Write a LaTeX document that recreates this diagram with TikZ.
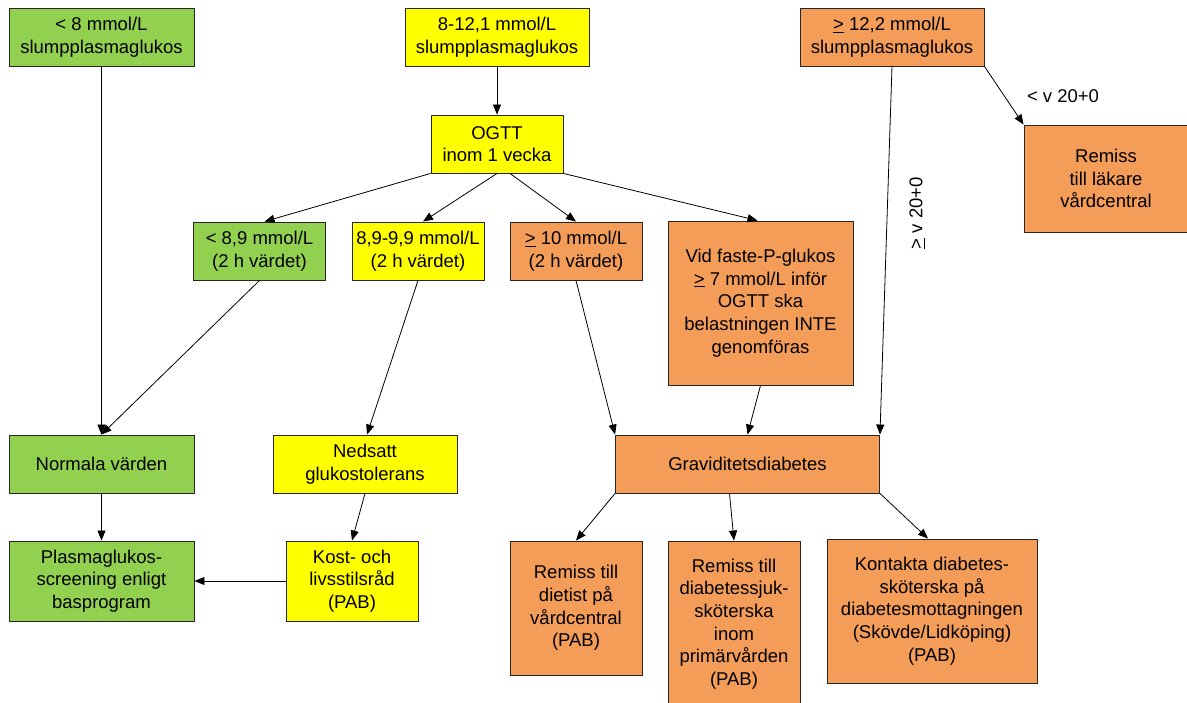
\documentclass[tikz,border=0pt]{standalone}
\usepackage{fontspec}
\setmainfont{Liberation Sans}
\usetikzlibrary{arrows.meta}
\definecolor{gron}{RGB}{146,208,80}
\definecolor{gul}{RGB}{255,255,0}
\definecolor{gdorange}{RGB}{244,157,88}

\begin{document}
\begin{tikzpicture}[x=1pt, y=-1pt,
        box/.style={draw=black!85, line width=0.9pt, align=center, inner sep=0pt,
            font=\fontsize{18.5}{22.7}\selectfont},
        boxsize/.style 2 args={minimum width=#1pt, minimum height=#2pt},
        lbl/.style={inner sep=0pt, font=\fontsize{18.5}{22.7}\selectfont},
        arr/.style={-{Triangle[length=10pt,width=8pt]}, line width=0.8pt}]
        \useasboundingbox (0,0) rectangle (1187,703);
        \node[box, fill=gron, boxsize={185}{58}] (lag) at (101.5,37) {< 8 mmol/L\\slumpplasmaglukos};
        \node[box, fill=gul, boxsize={184}{58}] (mellan) at (497,37) {8-12,1 mmol/L\\slumpplasmaglukos};
        \node[box, fill=gdorange, boxsize={184}{58}] (hog) at (892,37) {\underline{>} 12,2 mmol/L\\slumpplasmaglukos};
        \node[box, fill=gul, boxsize={132}{58}] (ogtt) at (497,144) {OGTT\\inom 1 vecka};
        \node[box, fill=gdorange, boxsize={164}{107}] (lakare) at (1106,178.5) {Remiss\\till läkare\\vårdcentral};
        \node[box, fill=gron, boxsize={132}{58}] (tva) at (259.5,251) {< 8,9 mmol/L\\(2 h värdet)};
        \node[box, fill=gul, boxsize={132}{58}] (tvb) at (418,251) {8,9-9,9 mmol/L\\(2 h värdet)};
        \node[box, fill=gdorange, boxsize={132}{58}] (tvc) at (576,251) {\underline{>} 10 mmol/L\\(2 h värdet)};
        \node[box, fill=gdorange, boxsize={185}{164}] (faste) at (760.5,303) {Vid faste-P-glukos\\\underline{>} 7 mmol/L inför\\OGTT ska\\belastningen INTE\\genomföras};
        \node[box, fill=gron, boxsize={185}{58}] (normal) at (101.5,464) {Normala värden};
        \node[box, fill=gul, boxsize={184}{58}] (nedsatt) at (365,464) {Nedsatt\\glukostolerans};
        \node[box, fill=gdorange, boxsize={264}{58}] (gdm) at (747.5,464) {Graviditetsdiabetes};
        \node[box, fill=gron, boxsize={185}{80}] (screening) at (101.5,581) {Plasmaglukos-\\screening enligt\\basprogram};
        \node[box, fill=gul, boxsize={132}{80}] (kost) at (352,581) {Kost- och\\livsstilsråd\\(PAB)};
        \node[box, fill=gdorange, boxsize={132}{134}] (dietist) at (576,608) {Remiss till\\dietist på\\vårdcentral\\(PAB)};
        \node[box, fill=gdorange, boxsize={132}{166}] (sjuk) at (734,624) {Remiss till\\diabetessjuk-\\sköterska\\inom\\primärvården\\(PAB)};
        \node[box, fill=gdorange, boxsize={210}{144}] (kontakta) at (932,611) {Kontakta diabetes-\\sköterska på\\diabetesmottagningen\\(Skövde/Lidköping)\\(PAB)};
        \node[lbl] (fore) at (1063,96) {< v 20+0};
        \node[lbl, rotate=90] (efter) at (917,213) {\underline{>} v 20+0};

        \draw[arr] (lag) -- (normal);
        \draw[arr] (tva.south) -- (normal.north);
        \draw[arr] (mellan) -- (ogtt);
        \draw[arr] (ogtt.south west) -- ([xshift=5pt]tva.north);
        \draw[arr] (ogtt.south) -- ([xshift=5pt]tvb.north);
        \draw[arr] ([xshift=13pt]ogtt.south) -- (tvc.north);
        \draw[arr] (ogtt.south east) -- ([xshift=-3pt]faste.north);
        \draw[arr] (tvb.south) -- ([xshift=2pt]nedsatt.north);
        \draw[arr] (tvc.south) -- (gdm.north west);
        \draw[arr] (faste.south) -- (gdm.north);
        \draw[arr] (hog.south) -- (gdm.north east);
        \draw[arr] (hog.south east) -- (lakare.north west);
        \draw[arr] (normal) -- (screening);
        \draw[arr] (nedsatt.south) -- (kost.north);
        \draw[arr] (kost) -- (screening);
        \draw[arr] (gdm.south west) -- (dietist.north);
        \draw[arr] ([xshift=-18pt]gdm.south) -- (sjuk.north);
        \draw[arr] (gdm.south east) -- ([xshift=-4pt]kontakta.north);
    \end{tikzpicture}
\end{document}
